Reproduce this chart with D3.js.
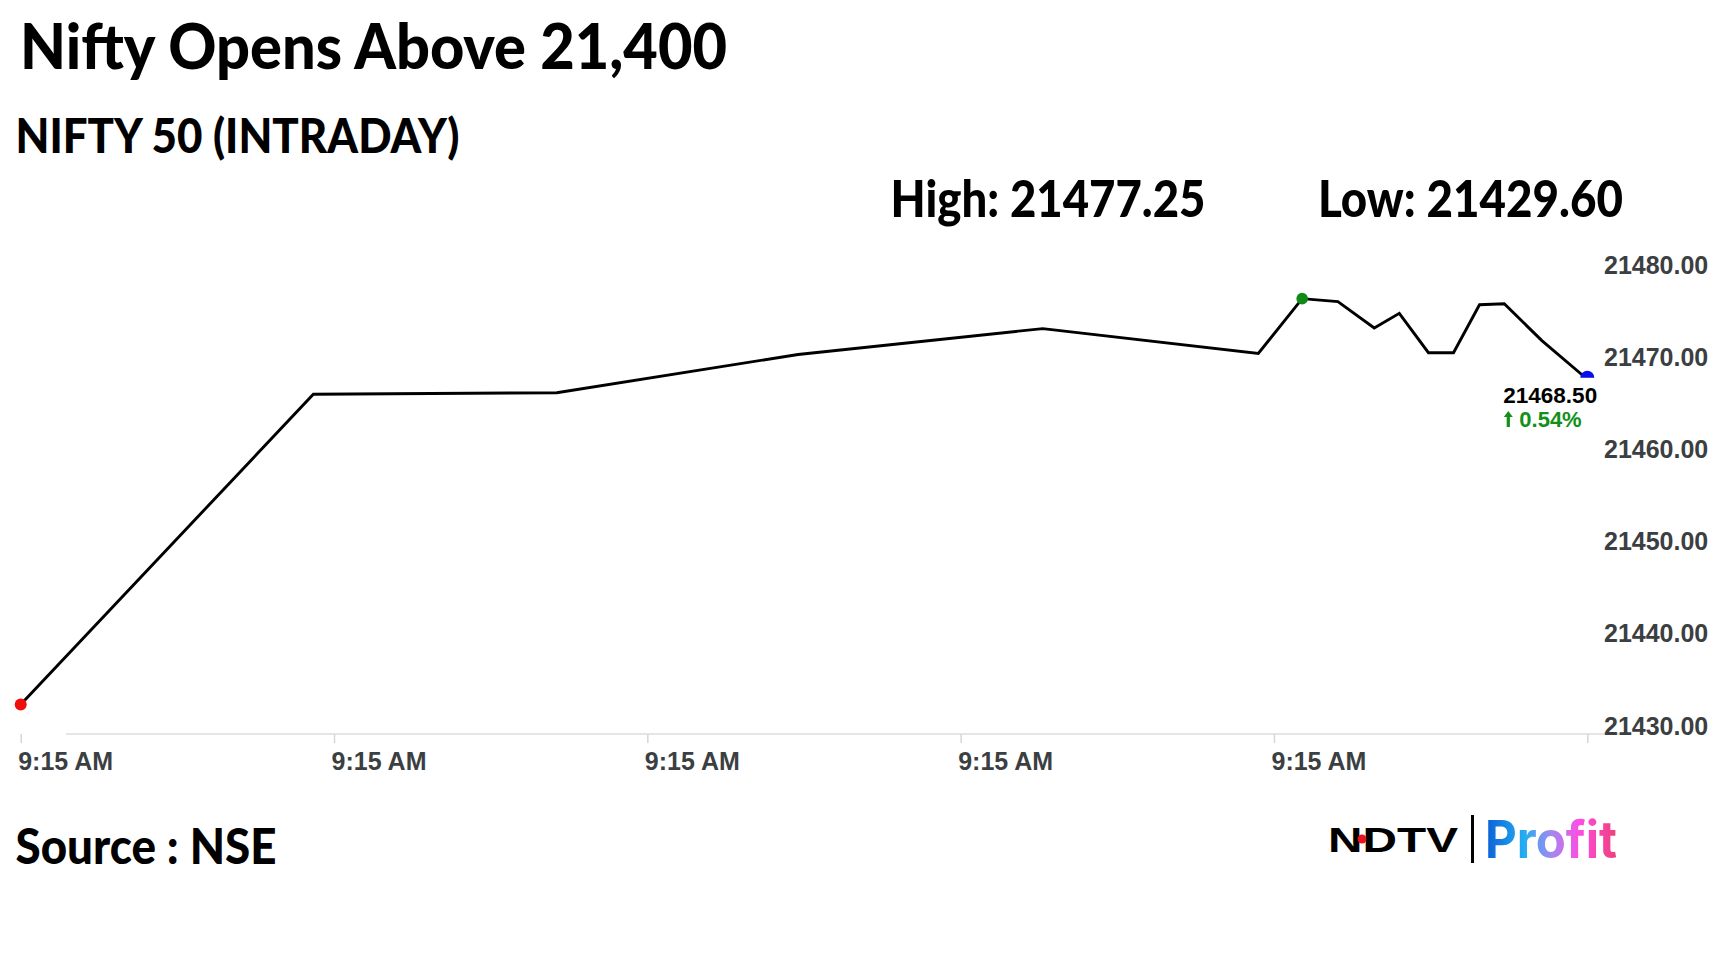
<!DOCTYPE html>
<html><head><meta charset="utf-8">
<script src="https://cdn.jsdelivr.net/npm/d3@7"></script>
<style>html,body{margin:0;padding:0;background:#fff;} svg{display:block}</style>
</head><body>
<svg id="chart" width="1728" height="972"></svg>
<script>
// ---- data ----
const titleText = "Nifty Opens Above 21,400";
const subtitleText = "NIFTY 50 (INTRADAY)";
const highLabel = "High: 21477.25";
const lowLabel = "Low: 21429.60";
const sourceText = "Source : NSE";
const secondsAfterOpen = [0, 9.34, 17.11, 24.81, 32.62, 39.5, 40.9, 42.04, 43.2, 44.0, 44.93, 45.73, 46.56, 47.35, 48.55, 50];
const niftyValues = [21433.2, 21466.87, 21467.04, 21471.19, 21474.0, 21471.3, 21477.25, 21476.92, 21474.06, 21475.66, 21471.38, 21471.38, 21476.59, 21476.7, 21472.69, 21468.5];
const yTickValues = [21430, 21440, 21450, 21460, 21470, 21480];
const xTickSeconds = [0, 10, 20, 30, 40, 50];
const highIndex = 6;
const lastValueLabel = "21468.50";
const changeLabel = "0.54%";

// ---- build ----
const svg = d3.select("#chart");
const t0 = new Date(2023, 11, 20, 9, 15, 0);
const toDate = s => new Date(t0.getTime() + s * 1000);
const data = secondsAfterOpen.map((s, i) => ({ t: toDate(s), v: niftyValues[i] }));

const x = d3.scaleTime().domain([toDate(0), toDate(50)]).range([20.7, 1587.3]);
const y = d3.scaleLinear().domain([21430, 21480]).range([734, 273.3]);

svg.append("rect").attr("width", 1728).attr("height", 972).attr("fill", "#fff");

const lato = "Lato, 'Open Sans', sans-serif";
function heading(txt, xPos, yBase, size, len) {
  svg.append("text").attr("x", xPos).attr("y", yBase)
    .attr("font-family", lato).attr("font-weight", 900).attr("font-size", size)
    .attr("fill", "#000").attr("textLength", len).attr("lengthAdjust", "spacingAndGlyphs")
    .text(txt);
}
heading(titleText, 20, 69, 63, 707);
heading(subtitleText, 15.5, 153, 48, 444);
heading(highLabel, 890.5, 217, 52, 315);
heading(lowLabel, 1318, 217, 52, 305);
heading(sourceText, 15.5, 864, 49, 261);

// baseline grid line
svg.append("line").attr("x1", 66).attr("x2", 1630).attr("y1", y(21430)).attr("y2", y(21430))
  .attr("stroke", "#dcdcdc").attr("stroke-width", 1.5);

// x axis
const xAxis = svg.append("g").attr("transform", `translate(0,${y(21430)})`)
  .call(d3.axisBottom(x).tickValues(xTickSeconds.map(toDate))
    .tickFormat(d3.timeFormat("%-I:%M %p")).tickSize(9));
xAxis.select(".domain").remove();
xAxis.selectAll(".tick line").attr("stroke", "#d6d6d6").attr("stroke-width", 1.5);
xAxis.selectAll(".tick text").attr("text-anchor", "start").attr("x", -3).attr("y", 36).attr("dy", 0)
  .attr("font-family", "'Liberation Sans', Arial, sans-serif").attr("font-weight", 700)
  .attr("font-size", 25).attr("fill", "#3c3f42");
xAxis.selectAll(".tick").filter((d, i) => i === xTickSeconds.length - 1).select("text").remove();

// y axis
const yAxis = svg.append("g").attr("transform", "translate(1604,0)")
  .call(d3.axisRight(y).tickValues(yTickValues).tickFormat(d3.format(".2f")).tickSize(0));
yAxis.select(".domain").remove();
yAxis.selectAll(".tick text").attr("x", 0).attr("dy", 0).attr("y", 0).attr("text-anchor", "start")
  .attr("font-family", "'Liberation Sans', Arial, sans-serif").attr("font-weight", 700)
  .attr("font-size", 25).attr("fill", "#3c3f42");

// line
const line = d3.line().x(d => x(d.t)).y(d => y(d.v));
svg.append("path").datum(data).attr("d", line).attr("fill", "none")
  .attr("stroke", "#000").attr("stroke-width", 2.9).attr("stroke-linejoin", "miter");

// markers
const first = data[0], hi = data[highIndex], last = data[data.length - 1];
svg.append("circle").attr("cx", x(first.t)).attr("cy", y(first.v)).attr("r", 6).attr("fill", "#f20d0d");
svg.append("circle").attr("cx", x(hi.t)).attr("cy", y(hi.v)).attr("r", 5.8).attr("fill", "#0f8a17");
svg.append("circle").attr("cx", x(last.t)).attr("cy", y(last.v) - 1.5).attr("r", 7).attr("fill", "#0b0bef");

// last-value label box
const lx = x(last.t) - 84;
svg.append("rect").attr("x", lx - 3).attr("y", y(last.v) - 1.5).attr("width", 96).attr("height", 56).attr("fill", "#fff");
svg.append("text").attr("x", lx).attr("y", 403).attr("font-family", "'Liberation Sans', Arial, sans-serif")
  .attr("font-weight", 700).attr("font-size", 22.5).attr("fill", "#000").text(lastValueLabel);
// up arrow
const ax = lx + 5, ab = 427;
svg.append("path")
  .attr("d", `M${ax - 4.5},${ab - 10} L${ax},${ab - 16} L${ax + 4.5},${ab - 10} L${ax + 1.6},${ab - 10} L${ax + 1.6},${ab} L${ax - 1.6},${ab} L${ax - 1.6},${ab - 10} Z`)
  .attr("fill", "#11901a");
svg.append("text").attr("x", lx + 16).attr("y", ab).attr("font-family", "'Liberation Sans', Arial, sans-serif")
  .attr("font-weight", 700).attr("font-size", 22).attr("fill", "#11901a").text(changeLabel);

// logo
svg.append("text").attr("x", 1328).attr("y", 852).attr("font-family", "'Liberation Sans', Arial, sans-serif")
  .attr("font-weight", 700).attr("font-size", 35).attr("fill", "#000")
  .attr("textLength", 130).attr("lengthAdjust", "spacingAndGlyphs").text("NDTV");
svg.append("circle").attr("cx", 1362).attr("cy", 839).attr("r", 4.5).attr("fill", "#e8141e");
svg.append("rect").attr("x", 1471).attr("y", 815).attr("width", 3).attr("height", 48).attr("fill", "#000");
const grad = svg.append("defs").append("linearGradient").attr("id", "pg")
  .attr("gradientUnits", "userSpaceOnUse").attr("x1", 1485).attr("x2", 1617).attr("y1", 0).attr("y2", 0);
[[0, "#0a5fd6"], [0.3, "#24aef2"], [0.5, "#a08af0"], [0.72, "#ff4ce2"], [1, "#ef3f78"]]
  .forEach(([o, c]) => grad.append("stop").attr("offset", o).attr("stop-color", c));
svg.append("text").attr("x", 1485).attr("y", 858).attr("font-family", "Inter, 'Open Sans', sans-serif")
  .attr("font-weight", 700).attr("font-size", 52).attr("fill", "url(#pg)")
  .attr("textLength", 132).attr("lengthAdjust", "spacingAndGlyphs").text("Profit");
</script>
</body></html>
